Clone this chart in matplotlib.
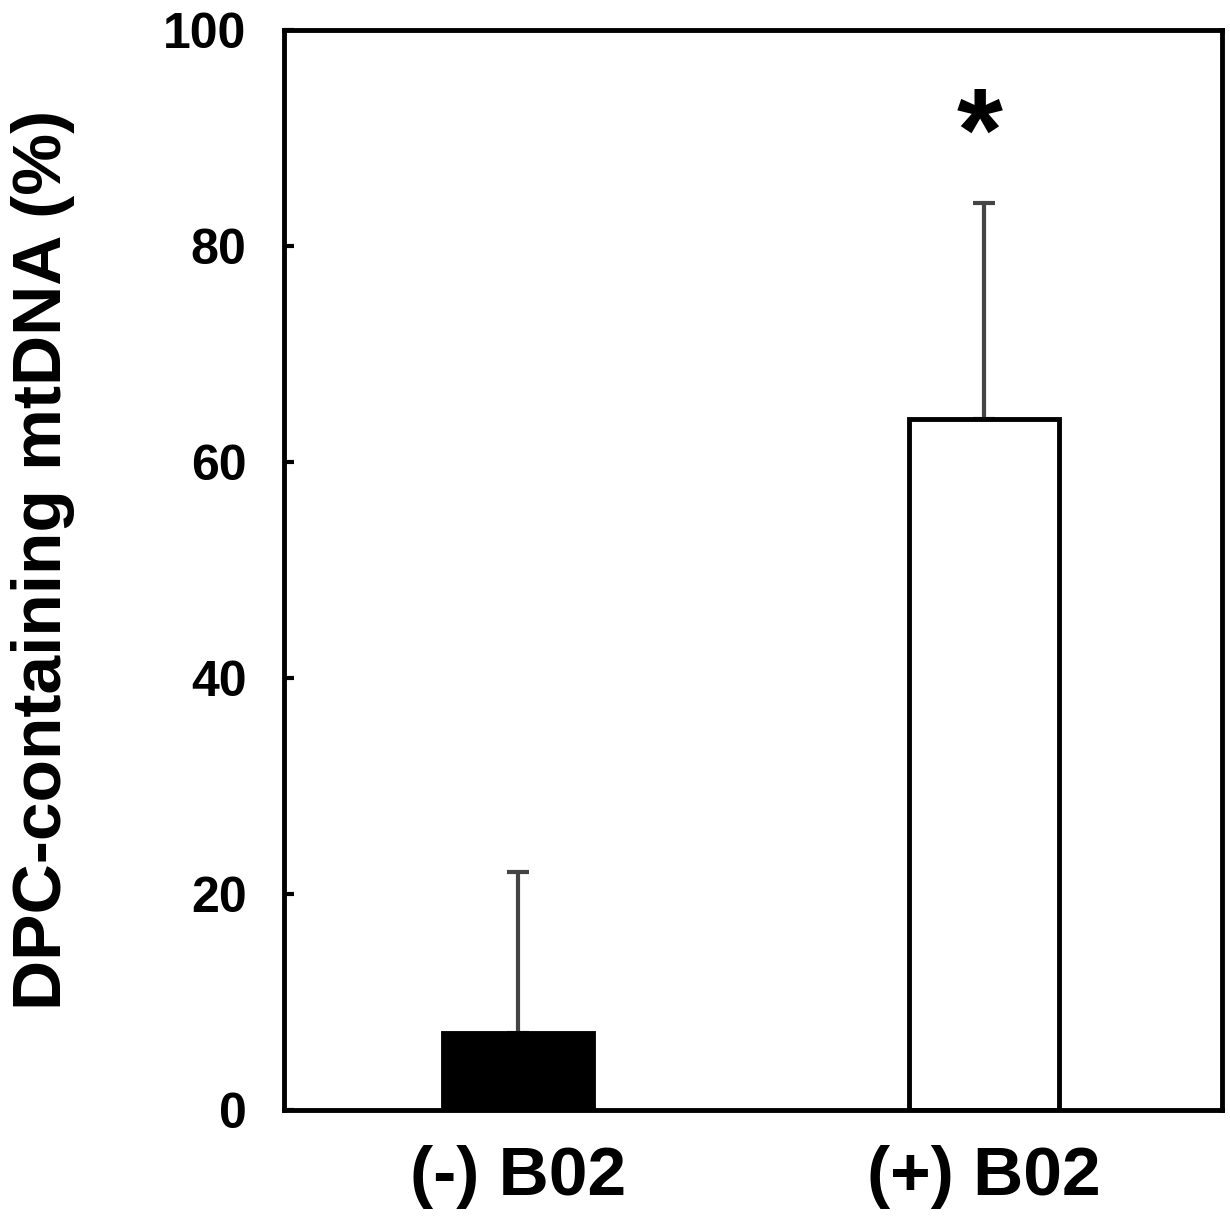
import matplotlib
matplotlib.use("Agg")
import matplotlib.pyplot as plt

categories = ["(-) B02", "(+) B02"]
values = [7.1, 64.0]
errors = [14.9, 20.0]
bar_colors = ["black", "white"]
yticks = [0, 20, 40, 60, 80, 100]

plt.rcParams['font.family'] = ['Liberation Sans', 'DejaVu Sans']
plt.rcParams['font.weight'] = 'bold'

fig = plt.figure(figsize=(12.30, 12.29), dpi=100)
ax = fig.add_axes([284/1230, 1 - 1110/1229, (1222-284)/1230, (1110-30)/1229])

x = [0, 1]
ax.bar(x, values, width=0.322, color=bar_colors, edgecolor="black", linewidth=3.5, zorder=2)
ax.errorbar(x, values, yerr=[[0, 0], errors], fmt="none", ecolor="#444444",
            elinewidth=3, capsize=8, capthick=3, zorder=1)
ax.text(0.992, 89.8, "*", ha="center", va="center", fontsize=85, fontweight="bold")

ax.set_xlim(-0.503, 1.512)
ax.set_ylim(0, 100)
ax.set_yticks(yticks)
ax.set_xticks(x)
ax.set_xticklabels(categories, fontsize=50, fontweight="bold")
ax.set_yticklabels([str(t) for t in yticks], fontsize=36, fontweight="bold")
ax.tick_params(axis="y", direction="in", length=7, width=3, pad=27, right=False)
ax.tick_params(axis="x", length=0, pad=25)
for s in ax.spines.values():
    s.set_linewidth(3.5)
fig.text(43/1230, 1 - 560/1229, "DPC-containing mtDNA (%)", rotation=90,
         ha="center", va="center", fontsize=50, fontweight="bold")

fig.savefig("out.png", dpi=100)
